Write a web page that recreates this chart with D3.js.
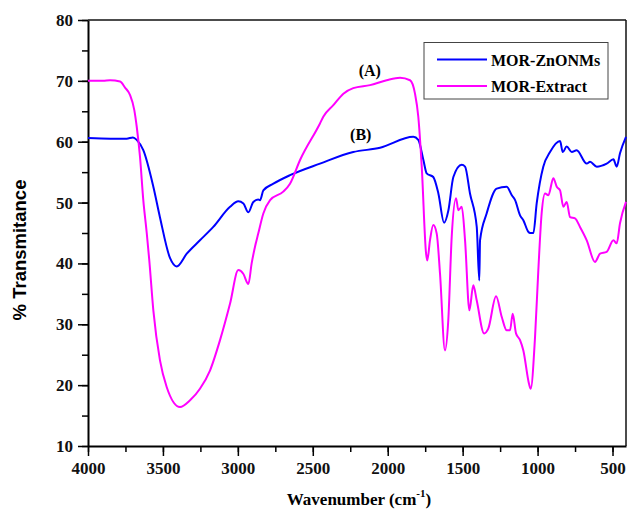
<!DOCTYPE html>
<html>
<head>
<meta charset="utf-8">
<script src="https://cdn.jsdelivr.net/npm/d3@7"></script>
<style>
  body { margin: 0; background: #fff; }
  svg { display: block; }
</style>
</head>
<body>
<div id="chart"></div>
<script>
// FTIR spectra (wavenumber cm-1, % transmittance)
const znoWn = [4000,3850,3742,3700,3675,3631,3564,3520,3453,3408,3341,3253,3164,3052,2997,2963,2930,2897,2864,2852,2830,2763,2652,2452,2230,2051,1829,1796,1762,1740,1696,1662,1624,1595,1562,1506,1484,1451,1406,1389,1384,1340,1273,1206,1172,1150,1117,1095,1062,1050,1028,1006,962,917,850,832,806,772,739,672,650,605,539,494,472,450,410];
const znoT  = [60.6,60.5,60.5,60.7,60.3,58.6,52.6,47.6,40.9,39.5,41.6,43.8,46.0,49.3,50.2,49.85,48.4,50.1,50.5,50.4,52.0,53.1,54.5,56.4,58.3,59.0,60.8,60.3,57.0,54.8,54.2,51.5,46.7,48.75,54.2,56.2,55.9,51.5,46.0,37.2,43.8,48.2,52.3,52.6,51.2,50.4,47.9,47.1,45.2,45.0,45.0,49.85,55.9,58.3,60.1,58.3,59.2,58.3,58.6,56.4,56.7,55.9,56.4,57.1,55.9,58.1,60.8];

const extWn = [4000,3900,3853,3786,3753,3720,3691,3675,3653,3631,3608,3591,3564,3520,3475,3386,3319,3253,3186,3119,3052,2997,2964,2930,2908,2886,2864,2830,2785,2697,2652,2585,2452,2430,2363,2296,2230,2118,2007,1918,1851,1818,1796,1773,1744,1736,1718,1696,1673,1651,1618,1596,1573,1544,1529,1506,1484,1455,1429,1406,1357,1329,1277,1239,1206,1184,1166,1144,1117,1095,1057,1046,1017,995,973,950,928,895,872,850,828,806,783,750,717,672,617,583,539,494,472,450,410];
const extT  = [70.0,70.0,70.1,69.9,68.9,67.7,65.2,62.5,57.5,50.4,45.0,40.5,32.3,24.1,19.7,16.4,17.5,19.4,22.4,27.4,33.4,38.9,38.3,36.6,40.0,42.7,44.9,48.2,50.4,51.8,53.1,57.0,63.0,64.1,66.0,67.9,68.8,69.3,70.1,70.5,70.1,67.9,64.1,55.9,41.6,40.5,43.8,46.3,44.9,38.3,25.7,30.6,44.4,50.7,48.75,49.3,43.8,32.3,36.4,33.9,28.5,29.3,34.6,31.2,29.0,29.0,31.75,28.5,27.4,25.7,20.2,19.4,27.9,38.9,48.2,51.5,51.2,54.0,52.6,52.0,49.3,50.1,47.6,47.4,46.0,43.8,40.25,41.6,41.9,43.8,43.3,46.6,50.1];

const seriesNames = ["MOR-ZnONMs", "MOR-Extract"];
const seriesColors = ["#0000ff", "#ff00ff"];
const xTicks = [4000,3500,3000,2500,2000,1500,1000,500];
const yTicks = [10,20,30,40,50,60,70,80];

const serif = "'Liberation Serif', 'Times New Roman', serif";
const width = 627, height = 517;
const margin = { top: 20, right: 1, bottom: 71, left: 88 };

const svg = d3.select("#chart").append("svg")
  .attr("width", width)
  .attr("height", height);

const x = d3.scaleLinear()
  .domain([4000, 410])
  .range([margin.left, width - margin.right]);

const y = d3.scaleLinear()
  .domain([10, 80])
  .range([height - margin.bottom, margin.top]);

function styleLabels(g) {
  g.selectAll(".tick text")
    .style("font-family", serif)
    .style("font-weight", "bold")
    .style("font-size", "17px")
    .attr("fill", "#111");
}

// minor ticks first
svg.append("g")
  .attr("transform", `translate(0,${height - margin.bottom})`)
  .call(d3.axisBottom(x).tickValues(d3.range(4000, 499, -250)).tickSize(6).tickFormat(""))
  .call(g => g.select(".domain").remove())
  .selectAll("line").attr("stroke-width", 1.5);

svg.append("g")
  .attr("transform", `translate(${margin.left},0)`)
  .call(d3.axisLeft(y).tickValues(d3.range(10, 81, 5)).tickSize(6).tickFormat(""))
  .call(g => g.select(".domain").remove())
  .selectAll("line").attr("stroke-width", 1.5);

// major axes
svg.append("g")
  .attr("transform", `translate(0,${height - margin.bottom})`)
  .call(d3.axisBottom(x).tickValues(xTicks).tickFormat(d3.format("d")).tickSize(10).tickPadding(6).tickSizeOuter(0))
  .call(g => g.select(".domain").attr("stroke-width", 2))
  .call(g => g.selectAll("line").attr("stroke-width", 1.5))
  .call(styleLabels);

svg.append("g")
  .attr("transform", `translate(${margin.left},0)`)
  .call(d3.axisLeft(y).tickValues(yTicks).tickFormat(d3.format("d")).tickSize(10).tickPadding(5).tickSizeOuter(0))
  .call(g => g.select(".domain").attr("stroke-width", 2))
  .call(g => g.selectAll("line").attr("stroke-width", 1.5))
  .call(styleLabels);

// top and right frame
svg.append("line")
  .attr("x1", margin.left).attr("x2", width - margin.right)
  .attr("y1", y(80)).attr("y2", y(80))
  .attr("stroke", "#111").attr("stroke-width", 1.5);
svg.append("line")
  .attr("x1", width - margin.right).attr("x2", width - margin.right)
  .attr("y1", y(80)).attr("y2", y(10))
  .attr("stroke", "#111").attr("stroke-width", 1.5);

const line = d3.line()
  .x(d => x(d[0]))
  .y(d => y(d[1]))
  .curve(d3.curveMonotoneX);

const series = [
  d3.zip(znoWn, znoT),
  d3.zip(extWn, extT)
];

svg.selectAll("path.spectrum")
  .data(series)
  .join("path")
  .attr("class", "spectrum")
  .attr("fill", "none")
  .attr("stroke", (d, i) => seriesColors[i])
  .attr("stroke-width", 2)
  .attr("stroke-linejoin", "round")
  .attr("d", line);

// (A) / (B) labels
svg.append("text")
  .attr("x", x(2120)).attr("y", y(69.5) - 8)
  .attr("text-anchor", "middle")
  .style("font-family", serif).style("font-weight", "bold").style("font-size", "16px")
  .text("(A)");
svg.append("text")
  .attr("x", x(2180)).attr("y", y(59.0) - 8)
  .attr("text-anchor", "middle")
  .style("font-family", serif).style("font-weight", "bold").style("font-size", "16px")
  .text("(B)");

// legend
const legend = svg.append("g");
legend.append("rect")
  .attr("x", 424).attr("y", 42.5)
  .attr("width", 184).attr("height", 56.5)
  .attr("fill", "#fff")
  .attr("stroke", "#444").attr("stroke-width", 1);

seriesNames.forEach((name, i) => {
  const ly = 59.5 + i * 26.5;
  legend.append("line")
    .attr("x1", 437).attr("x2", 487)
    .attr("y1", ly).attr("y2", ly)
    .attr("stroke", seriesColors[i]).attr("stroke-width", 2);
  legend.append("text")
    .attr("x", 491).attr("y", ly + 6)
    .style("font-family", serif).style("font-weight", "bold").style("font-size", "16px")
    .text(name);
});

// axis titles
svg.append("text")
  .attr("transform", "translate(26,250) rotate(-90)")
  .attr("text-anchor", "middle")
  .style("font-family", "'Liberation Sans', Arial, sans-serif").style("font-weight", "bold").style("font-size", "18.5px")
  .text("% Transmitance");

const xt = svg.append("text")
  .attr("x", 359).attr("y", 505)
  .attr("text-anchor", "middle")
  .style("font-family", serif).style("font-weight", "bold").style("font-size", "17px");
xt.append("tspan").text("Wavenumber (cm");
xt.append("tspan").attr("dy", -8).style("font-size", "11px").text("-1");
xt.append("tspan").attr("dy", 8).text(")");
</script>
</body>
</html>
